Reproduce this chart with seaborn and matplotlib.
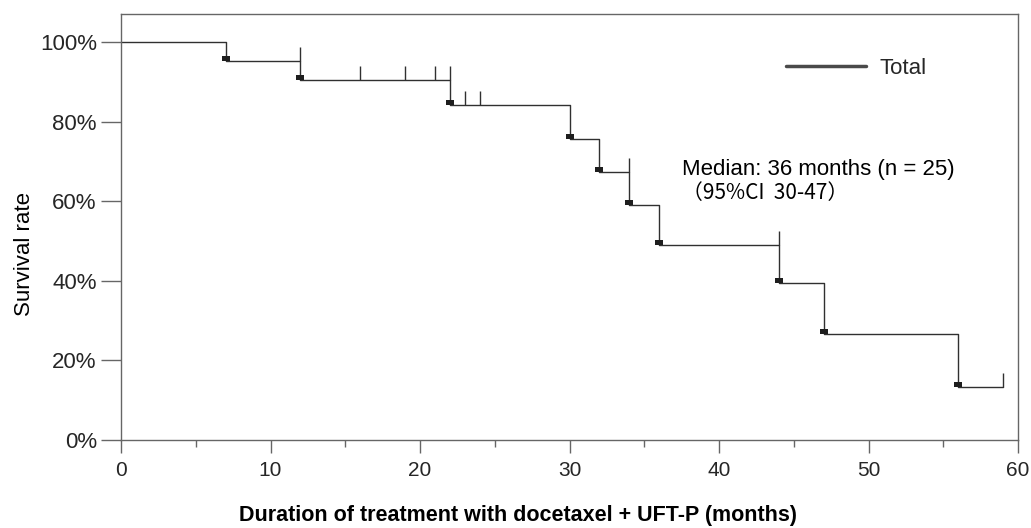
import matplotlib
matplotlib.use("Agg")
import matplotlib.pyplot as plt
from matplotlib.path import Path
from matplotlib.lines import Line2D
import seaborn as sns
import pandas as pd

# ---- data ----
step_times = [0, 7, 12, 22, 30, 32, 34, 36, 44, 47, 56, 59]
step_survival = [100, 95.4, 90.5, 84.1, 75.7, 67.3, 59.1, 48.9, 39.4, 26.6, 13.4, 13.4]
event_times = [7, 12, 22, 30, 32, 34, 36, 44, 47, 56]
event_survival = [95.4, 90.5, 84.1, 75.7, 67.3, 59.1, 48.9, 39.4, 26.6, 13.4]
censor_times = [12, 16, 19, 21, 22, 23, 24, 34, 44, 59]
censor_survival = [95.4, 90.5, 90.5, 90.5, 90.5, 84.1, 84.1, 67.3, 48.9, 13.4]
x_ticks = [0, 10, 20, 30, 40, 50, 60]
x_minor = [5, 15, 25, 35, 45, 55]
y_ticks = [0, 20, 40, 60, 80, 100]
y_tick_labels = ["0%", "20%", "40%", "60%", "80%", "100%"]
series_label = "Total"
median_text = "Median: 36 months (n = 25)"
ci_text = "（95%CI  30-47）"
x_label = "Duration of treatment with docetaxel + UFT-P (months)"
y_label = "Survival rate"

sns.set_style("white")
plt.rcParams["font.family"] = ["Liberation Sans", "Noto Sans CJK JP", "DejaVu Sans"]

W, H = 1031, 528
fig = plt.figure(figsize=(W / 100, H / 100), dpi=100)
ax = fig.add_axes([121 / W, 1 - 440 / H, (1018 - 121) / W, (440 - 14) / H])

line_col = "#303030"
spine_col = "#666666"

df = pd.DataFrame({"time": step_times, "survival": step_survival})
sns.lineplot(data=df, x="time", y="survival", drawstyle="steps-post",
             color=line_col, lw=1.0, estimator=None, ax=ax)

sq = Path([(-0.5, 0), (0.5, 0), (0.5, 0.7), (-0.5, 0.7), (-0.5, 0)],
          [Path.MOVETO, Path.LINETO, Path.LINETO, Path.LINETO, Path.CLOSEPOLY])
sns.scatterplot(x=event_times, y=event_survival, marker=sq, s=60,
                color="#1e1e1e", edgecolor="#1e1e1e", linewidth=0, ax=ax, zorder=3)

tick_path = Path([(0, 0), (0, 1)], [Path.MOVETO, Path.LINETO])
sns.scatterplot(x=censor_times, y=censor_survival, marker=tick_path, s=400,
                color=line_col, edgecolor=line_col, linewidth=1.0, ax=ax, zorder=3)

ax.set_xlim(0, 60)
ax.set_ylim(0, 107.1)
ax.set_xticks(x_ticks)
ax.set_xticks(x_minor, minor=True)
ax.set_xticklabels([str(v) for v in x_ticks])
ax.set_yticks(y_ticks)
ax.set_yticklabels(y_tick_labels)

for s in ax.spines.values():
    s.set_visible(True)
    s.set_color(spine_col)
    s.set_linewidth(1.0)

ax.tick_params(axis="x", which="major", direction="out", length=9.4, width=1,
               color=spine_col, labelsize=15, pad=5.5, bottom=True)
ax.tick_params(axis="x", which="minor", direction="out", length=5, width=1,
               color=spine_col, bottom=True)
ax.tick_params(axis="y", which="major", direction="out", length=14.4, width=1,
               color=spine_col, labelsize=16, pad=3, left=True)

ax.set_xlabel(x_label, fontsize=15.5, fontweight="bold", color="black")
ax.set_ylabel(y_label, fontsize=16, color="black")
ax.xaxis.set_label_coords(0.4426, -0.1526)
ax.yaxis.set_label_coords(-0.0962, 0.4366)

ax.text(0.6254, 0.6225, median_text, transform=ax.transAxes, fontsize=16,
        ha="left", va="baseline", color="black")
ax.text(0.6254, 0.5665, ci_text, transform=ax.transAxes, fontsize=15,
        ha="left", va="baseline", color="black",
        family=["Noto Sans CJK JP", "DejaVu Sans"])

handle = Line2D([], [], color="#4a4a4a", lw=2.5)
ax.legend([handle], [series_label], loc="center left",
          bbox_to_anchor=(786 / W, 1 - 68 / H), bbox_transform=fig.transFigure,
          frameon=False, fontsize=16, handlelength=3.6, handletextpad=0.6,
          borderpad=0, borderaxespad=0)

fig.savefig("out.png", dpi=100)
